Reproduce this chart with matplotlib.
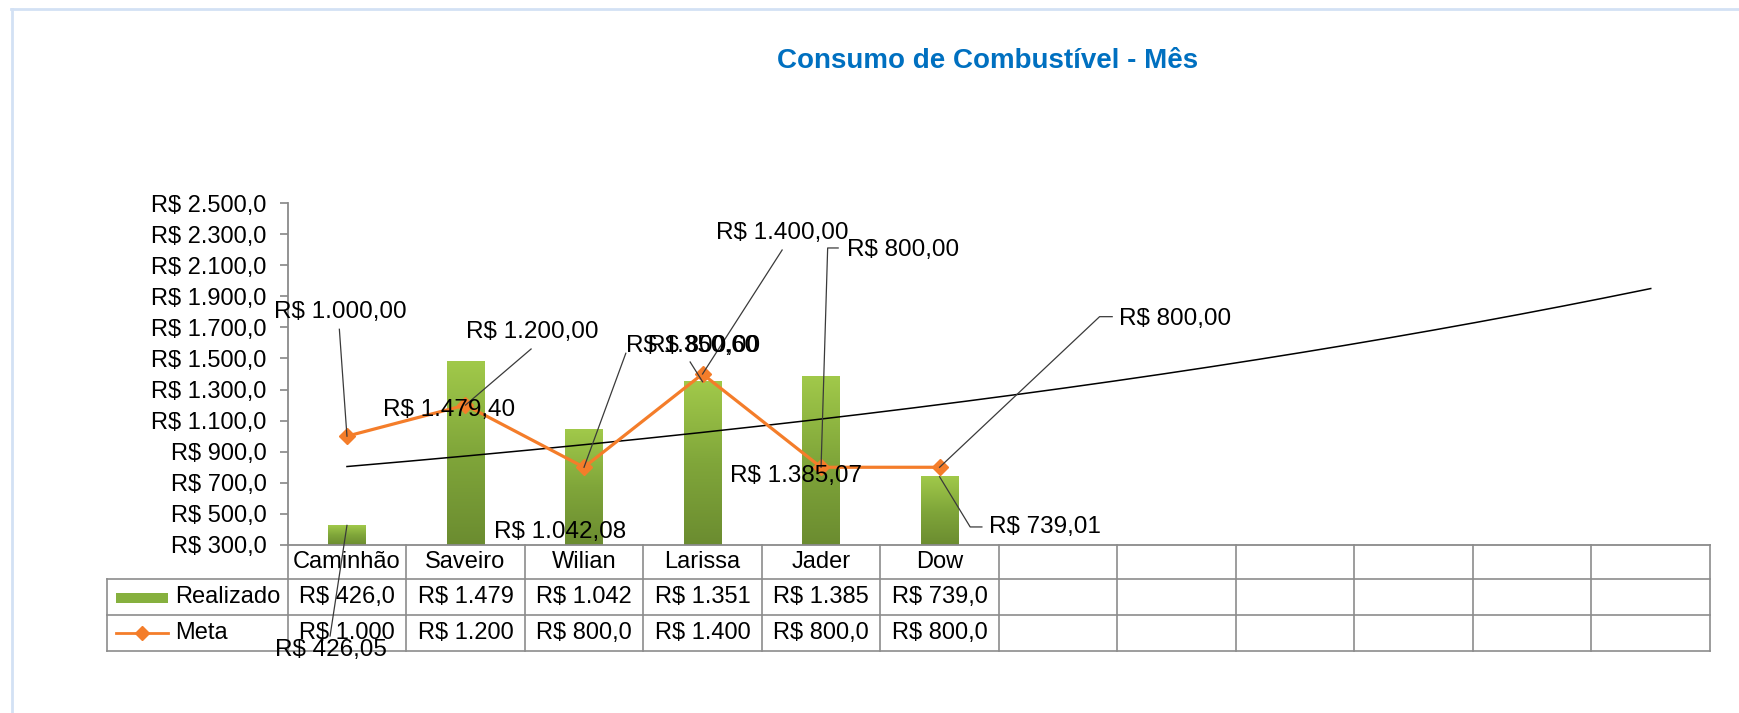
import numpy as np
import matplotlib
matplotlib.use("Agg")
import matplotlib.pyplot as plt
from matplotlib.transforms import IdentityTransform
from matplotlib.lines import Line2D
from matplotlib.patches import Rectangle
from matplotlib.colors import LinearSegmentedColormap

# ---------------- data ----------------
categories = ["Caminhão", "Saveiro", "Wilian", "Larissa", "Jader", "Dow", "", "", "", "", "", ""]
realizado = [426.048, 1479.40, 1042.08, 1350.60, 1385.07, 739.01]
meta = [1000, 1200, 800, 1400, 800, 800]
y_ticks = list(range(300, 2501, 200))
series_names = ["Realizado", "Meta"]
title = "Consumo de Combustível - Mês"


def brl(v, d):
    s = f"{v:,.{d}f}"
    s = s.replace(",", "X").replace(".", ",").replace("X", ".")
    return "R$ " + s


def brl_cell(v, maxlen=8):
    for d in (2, 1, 0):
        s = brl(v, d)
        if len(s) <= maxlen:
            return s
    return s


# ---------------- figure ----------------
W, H = 1739, 713
plt.rcParams["font.family"] = ["Liberation Sans", "DejaVu Sans"]
fig = plt.figure(figsize=(W / 100, H / 100), dpi=100)
fig.patch.set_facecolor("white")

AX_L, AX_R, AX_T, AX_B = 287.7, 1710.0, 203.0, 545.0
ax = fig.add_axes([AX_L / W, (H - AX_B) / H, (AX_R - AX_L) / W, (AX_B - AX_T) / H])
ax.set_facecolor("none")

x = np.arange(1, len(realizado) + 1)
YMIN, YMAX = y_ticks[0], y_ticks[-1]

# bars with vertical gradient
bars = ax.bar(x, realizado, width=0.315, color="none", edgecolor="none", zorder=2)
cmap = LinearSegmentedColormap.from_list("g", ["#6b8c30", "#80a63a", "#a1c94a"])
grad = np.linspace(0, 1, 256).reshape(-1, 1)
for b in bars:
    x0 = b.get_x()
    w = b.get_width()
    top = b.get_height()
    ax.imshow(grad, extent=[x0, x0 + w, YMIN, top], origin="lower", cmap=cmap,
              aspect="auto", zorder=2, interpolation="bilinear")

# exponential trendline of Realizado, extended over all category slots
m, c = np.polyfit(x, np.log(realizado), 1)
xt = np.linspace(1, len(categories), 300)
ax.plot(xt, np.exp(c + m * xt), color="black", lw=1.1, zorder=3)

# meta line
ORANGE = "#f47d2a"
ax.plot(x, meta, color=ORANGE, lw=2.3, marker="D", ms=8, zorder=4)

ax.set_xlim(0.5, len(categories) + 0.5)
ax.set_ylim(YMIN, YMAX)
ax.set_yticks(y_ticks)
ax.set_yticklabels([brl(v, 1) for v in y_ticks])
ax.tick_params(axis="y", length=6, width=1.2, color="#868686", pad=9, labelsize=17)
ax.tick_params(axis="x", length=0, labelbottom=False)
for s in ("top", "right"):
    ax.spines[s].set_visible(False)
for s in ("left", "bottom"):
    ax.spines[s].set_color("#8a8a8a")
    ax.spines[s].set_linewidth(1.3)

ID = IdentityTransform()


def hline(x0, x1, iy, **kw):
    fig.add_artist(Line2D([x0, x1], [H - iy, H - iy], transform=ID, **kw))


def vline(ix, y0, y1, **kw):
    fig.add_artist(Line2D([ix, ix], [H - y0, H - y1], transform=ID, **kw))


# ---------------- chart frame ----------------
FRAME = "#d3e1f4"
hline(11, W, 8.5, color=FRAME, lw=2.0, zorder=1)
vline(11.5, 8.5, H, color=FRAME, lw=2.0, zorder=1)

# ---------------- title ----------------
fig.text(987.6, H - 61, title, transform=ID, ha="center", va="center",
         fontsize=20, fontweight="bold", color="#0070c0")

# ---------------- data labels ----------------
LBL_FS = 17.5


def draw_label(xv, yv, text, toff, path):
    a0, b0 = ax.transData.transform((xv, yv))
    fig.text(a0 + toff[0], b0 - toff[1], text, transform=ID, ha="center",
             va="center", fontsize=LBL_FS, color="black", zorder=6)
    if path:
        xs = [a0] + [a0 + p[0] for p in path]
        ys = [b0] + [b0 - p[1] for p in path]
        fig.add_artist(Line2D(xs, ys, transform=ID, color="#3a3a3a", lw=0.9, zorder=5))


meta_layout = [
    ((-7, -124.5), [(-7.6, -106.9)]),
    ((66.6, -73.4), [(65.6, -56.1)]),
    ((119.6, -121.6), [(41.8, -114)]),
    ((79.6, -140.7), [(79.6, -124)]),
    ((81.6, -217.3), [(6.6, -219.3), (17.1, -219.3)]),
    ((235.6, -148), [(160, -150.6), (172.6, -150.6)]),
]
real_layout = [
    ((-15.9, 124.6), [(-16.9, 110.6)]),
    ((-16.4, 48.3), []),
    ((-24.3, 102.1), []),
    ((-10.9, -36), [(-12.4, -19.7)]),
    ((-24.9, 99.7), []),
    ((105.6, 50.5), [(30.6, 50.2), (42.3, 50.2)]),
]
for xi, v, (toff, path) in zip(x, realizado, real_layout):
    draw_label(xi, v, brl(v, 2), toff, path)
for xi, v, (toff, path) in zip(x, meta, meta_layout):
    draw_label(xi, v, brl(v, 2), toff, path)

# ---------------- data table ----------------
GRID = "#8c8c8c"
ROWS = [545, 579, 615, 651]
TBL_L = 107.3
col_edges = [ax.transData.transform((i + 0.5, YMIN))[0] for i in range(len(categories) + 1)]
col_centers = [ax.transData.transform((i + 1, YMIN))[0] for i in range(len(categories))]
right = col_edges[-1]

for iy in ROWS[1:]:
    hline(TBL_L, right, iy, color=GRID, lw=1.2, zorder=2)
for ex in col_edges:
    vline(ex, ROWS[0], ROWS[-1], color=GRID, lw=1.2, zorder=2)
vline(TBL_L, ROWS[1], ROWS[-1], color=GRID, lw=1.2, zorder=2)

TBL_FS = 17
row_mid = [(ROWS[i] + ROWS[i + 1]) / 2 for i in range(3)]
for cx, name in zip(col_centers, categories):
    if name:
        fig.text(cx, H - row_mid[0], name, transform=ID, ha="center", va="center", fontsize=TBL_FS)
for cx, v in zip(col_centers, realizado):
    fig.text(cx, H - row_mid[1], brl_cell(v), transform=ID, ha="center", va="center", fontsize=TBL_FS)
for cx, v in zip(col_centers, meta):
    fig.text(cx, H - row_mid[2], brl_cell(v), transform=ID, ha="center", va="center", fontsize=TBL_FS)

# legend keys + row names
fig.add_artist(Rectangle((116, H - 603), 52, 10, transform=ID, facecolor="#86b03e",
                         edgecolor="none", zorder=3))
fig.add_artist(Line2D([116, 168], [H - row_mid[2], H - row_mid[2]], transform=ID,
                      color=ORANGE, lw=2.0, zorder=3))
fig.add_artist(Line2D([142], [H - row_mid[2]], transform=ID, color=ORANGE, marker="D",
                      ms=7, lw=0, zorder=4))
fig.text(175, H - row_mid[1], series_names[0], transform=ID, ha="left", va="center", fontsize=TBL_FS)
fig.text(175, H - row_mid[2], series_names[1], transform=ID, ha="left", va="center", fontsize=TBL_FS)

fig.savefig("out.png", dpi=100)
